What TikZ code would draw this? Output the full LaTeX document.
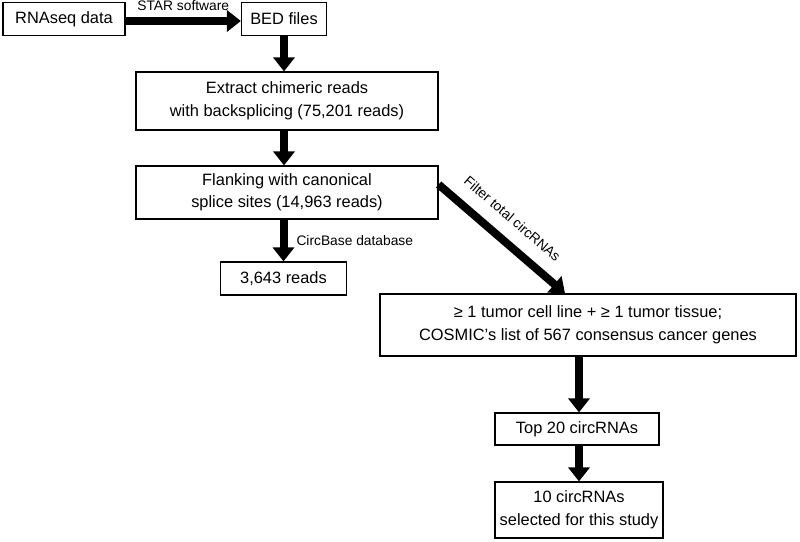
\documentclass[tikz,border=0pt]{standalone}
\usepackage{fontspec}
\setmainfont{Liberation Sans}
\usetikzlibrary{shapes,arrows.meta}

\tikzset{
  box/.style={shape=rectangle,draw=black,align=center,line width=1.2pt,inner sep=0pt,font=\fontsize{16.4}{22.5}\selectfont},
  bigarrow/.style={-{Triangle[width=21pt,length=14pt]},draw=black,line width=8pt},
  small/.style={font=\fontsize{13.8}{16}\selectfont,inner sep=0pt}
}

\begin{document}
\begin{tikzpicture}[x=1pt,y=-1pt]
\useasboundingbox (0,0) rectangle (800,541);
\node[box,minimum width=122pt,minimum height=33pt] (0) at (64,19) {RNAseq data};
\node[box,minimum width=85pt,minimum height=33pt] (1) at (284,19) {BED files};
\node[box,minimum width=302pt,minimum height=58pt] (2) at (287,101) {Extract chimeric reads\\with backsplicing (75,201 reads)};
\node[box,minimum width=302pt,minimum height=53pt] (3) at (287,192.5) {Flanking with canonical\\splice sites (14,963 reads)};
\node[box,minimum width=126pt,minimum height=33pt] (4) at (283.5,278.5) {3,643 reads};
\node[box,minimum width=416pt,minimum height=62pt] (5) at (588,325) {≥ 1 tumor cell line + ≥ 1 tumor tissue;\\COSMIC’s list of 567 consensus cancer genes};
\node[box,minimum width=164pt,minimum height=32pt] (6) at (577,429) {Top 20 circRNAs};
\node[box,minimum width=168pt,minimum height=56pt] (7) at (579,510) {10 circRNAs\\selected for this study};

\path ([yshift=-2pt]0.east) edge[bigarrow] node[small,above,yshift=6pt] {STAR software} ([yshift=-2pt]1.west);
\path (1.south) edge[bigarrow] (1.south |- 2.north);
\path (2.south -| 1.south) edge[bigarrow] (3.north -| 1.south);
\path (3.south -| 4.north) edge[bigarrow] node[small,right,xshift=9pt] {CircBase database} (4.north);
\path ([yshift=8pt]3.east) edge[bigarrow] node[small,sloped,above=13pt,pos=0.47] {Filter total circRNAs} ([xshift=-23pt]5.north);
\path (5.south -| 7.north) edge[bigarrow] (6.north -| 7.north);
\path (6.south -| 7.north) edge[bigarrow] (7.north);
\end{tikzpicture}
\end{document}
